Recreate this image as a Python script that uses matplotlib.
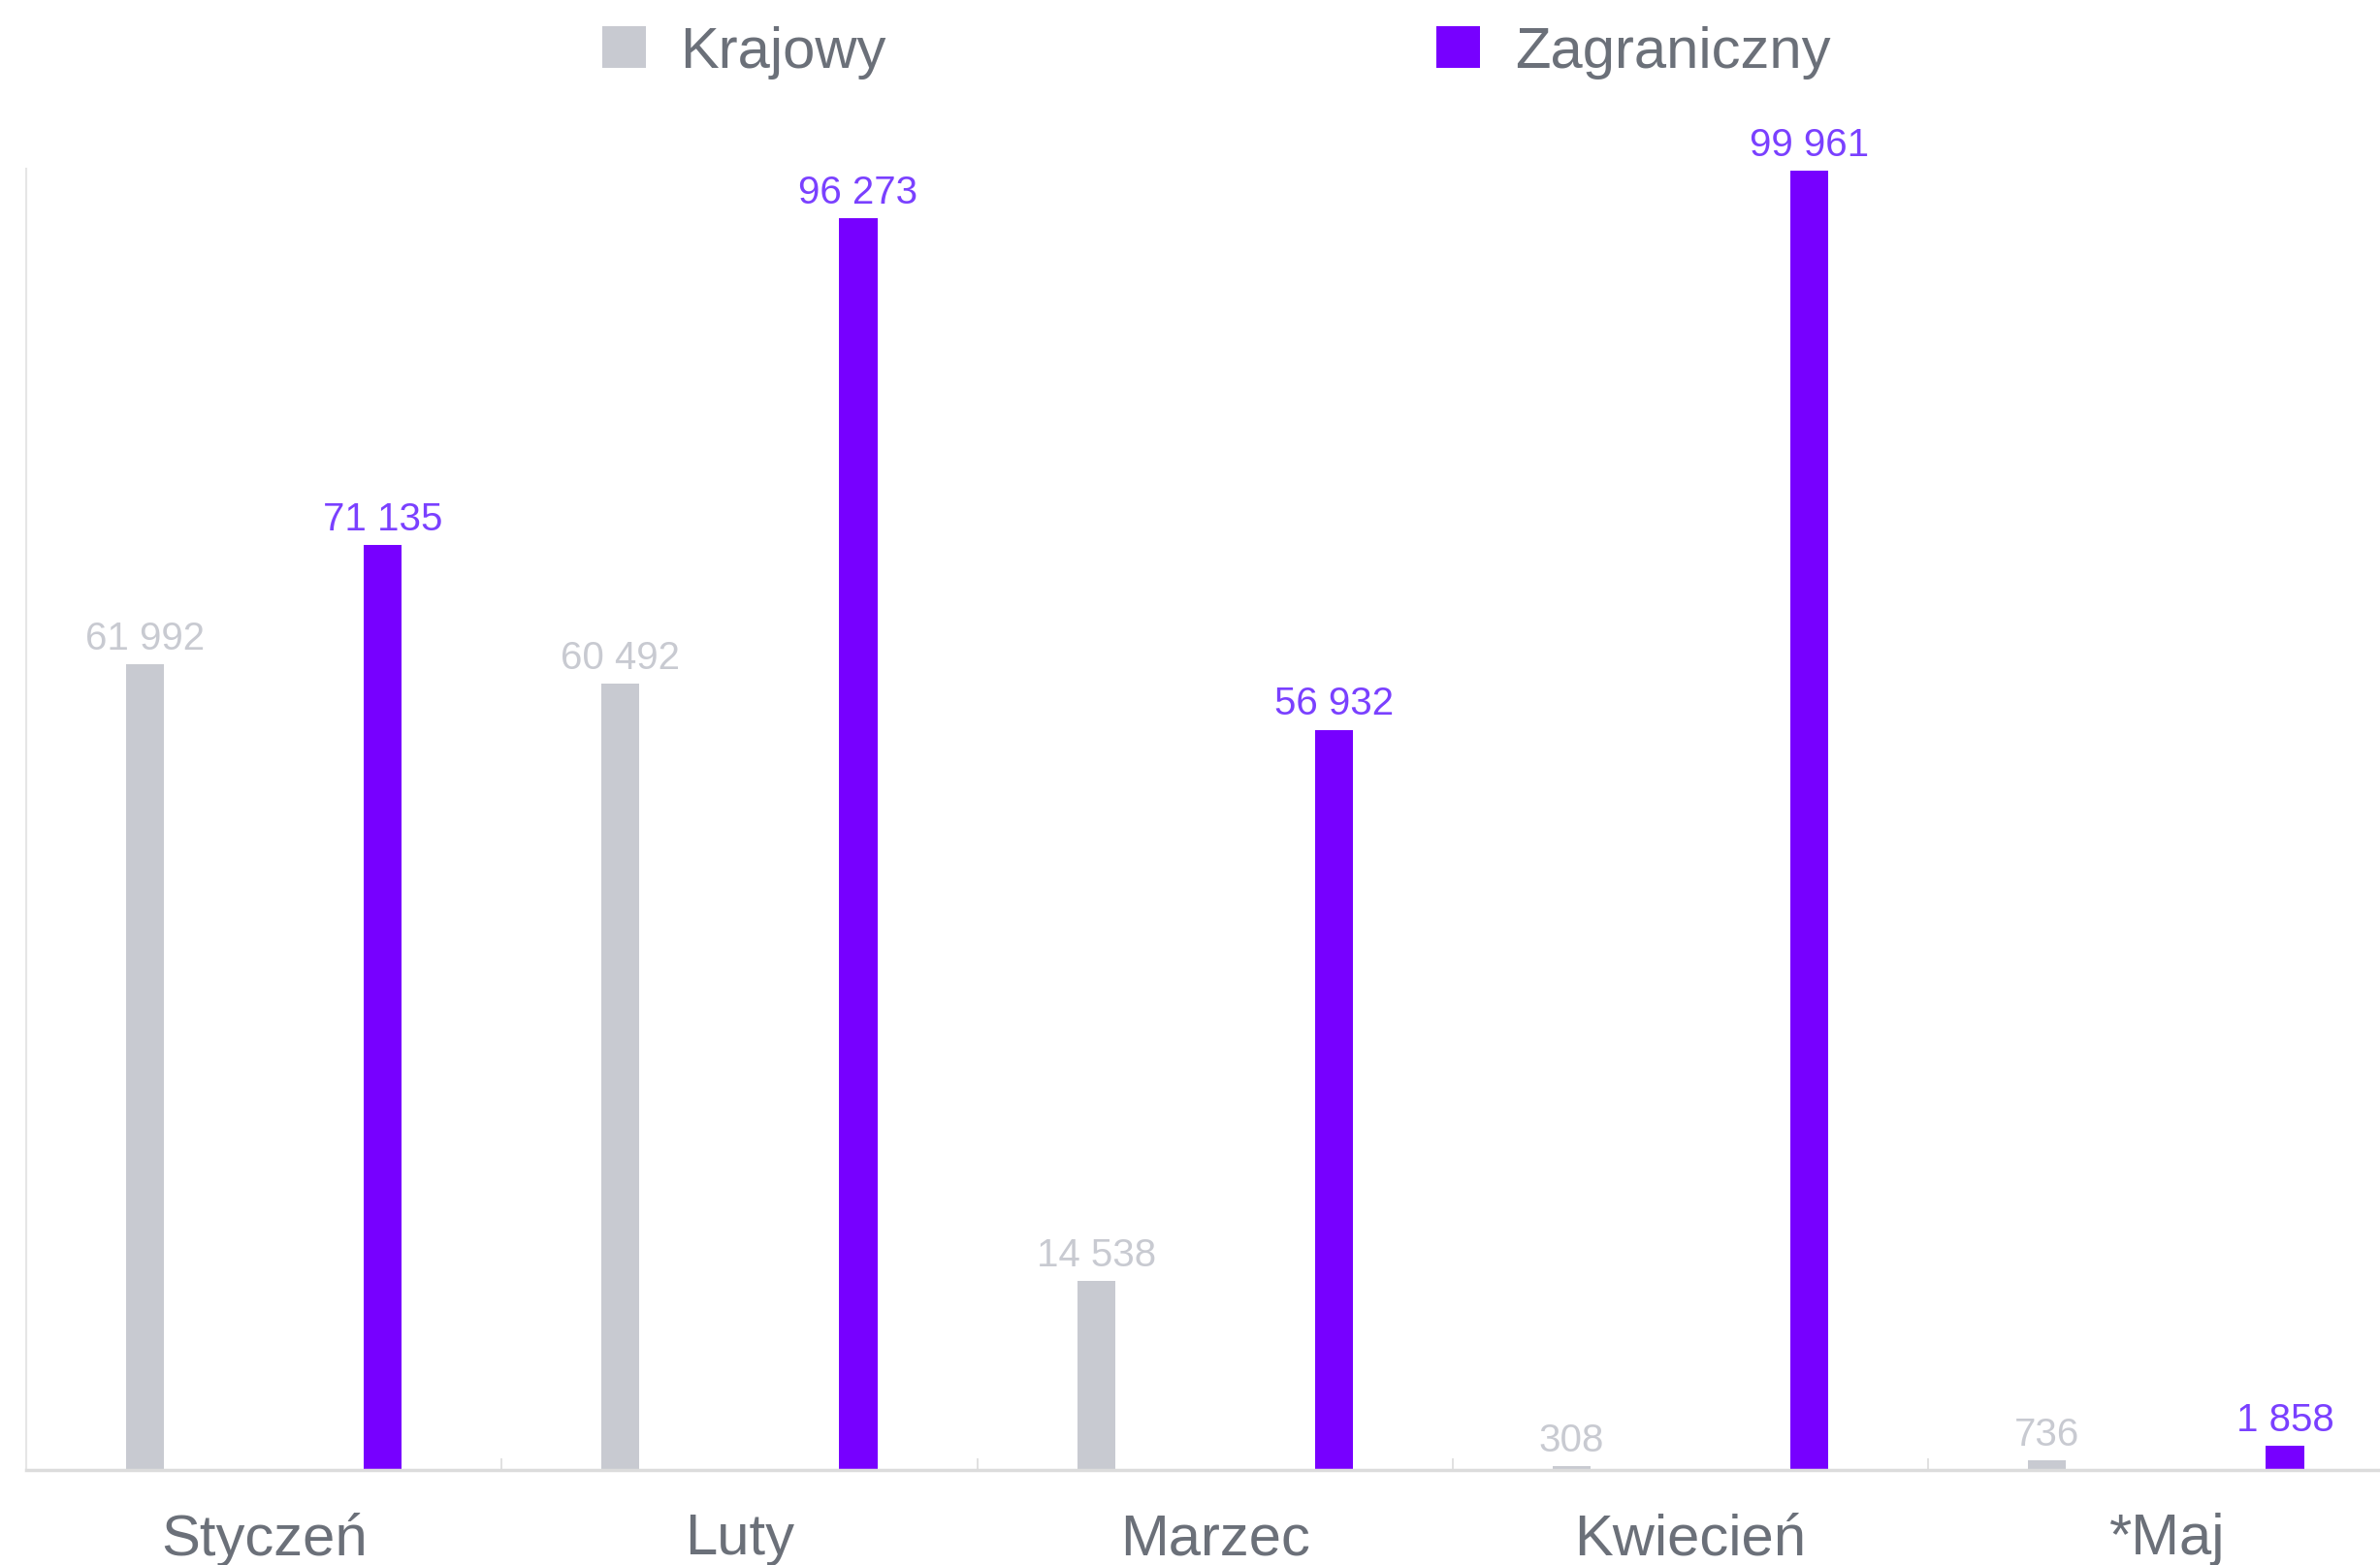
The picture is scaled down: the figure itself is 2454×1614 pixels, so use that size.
import matplotlib
matplotlib.use('Agg')
import matplotlib.pyplot as plt
import numpy as np

plt.rcParams['font.family'] = ['Liberation Sans', 'DejaVu Sans']

months = ['Styczeń', 'Luty', 'Marzec', 'Kwiecień', '*Maj']
krajowy = [61992, 60492, 14538, 308, 736]
zagraniczny = [71135, 96273, 56932, 99961, 1858]
series_names = ['Krajowy', 'Zagraniczny']

gray = '#c8cad1'
purple = '#7700ff'
gray_lbl = '#c8cad1'
purple_lbl = '#7a40ff'
text_col = '#6b7079'


def fmt(v):
    return f'{v:,}'.replace(',', ' ')


fig = plt.figure(figsize=(24.54, 16.15), dpi=100)
ax = fig.add_axes([0.011, 0.0607, 0.989, 0.8309])

x = np.arange(len(months))
off = 0.25
w = 0.08
b1 = ax.bar(x - off, krajowy, w, color=gray, label=series_names[0], zorder=2)
b2 = ax.bar(x + off, zagraniczny, w, color=purple, label=series_names[1], zorder=2)

for bars, vals, col in [(b1, krajowy, gray_lbl), (b2, zagraniczny, purple_lbl)]:
    for r, v in zip(bars, vals):
        ax.annotate(fmt(v), (r.get_x() + r.get_width() / 2, v),
                    xytext=(0, 6), textcoords='offset points',
                    ha='center', va='bottom', fontsize=29, color=col)

ax.set_xlim(-0.5, 4.45)
ax.set_ylim(0, 100100)
ax.set_xticks(x)
ax.set_xticklabels(months, fontsize=43, color=text_col)
ax.set_xticks(x[:-1] + 0.5, minor=True)
ax.tick_params(axis='x', which='major', length=0, pad=31)
ax.tick_params(axis='x', which='minor', direction='in', length=9,
               width=1.2, color='#dcdcdc')
ax.set_yticks([])

for s in ['top', 'right']:
    ax.spines[s].set_visible(False)
ax.spines['left'].set_color('#e6e6e6')
ax.spines['left'].set_linewidth(1.5)
ax.spines['bottom'].set_color('#dcdcdc')
ax.spines['bottom'].set_linewidth(2.5)

leg = fig.legend(handles=[b1, b2], labels=series_names, loc='center',
                 bbox_to_anchor=(0.511, 0.966), ncol=2, frameon=False,
                 fontsize=43, handlelength=0.75, handleheight=0.75,
                 handletextpad=0.6, columnspacing=9.5)
for t in leg.get_texts():
    t.set_color(text_col)

fig.savefig('out.png', dpi=100, facecolor='white')
